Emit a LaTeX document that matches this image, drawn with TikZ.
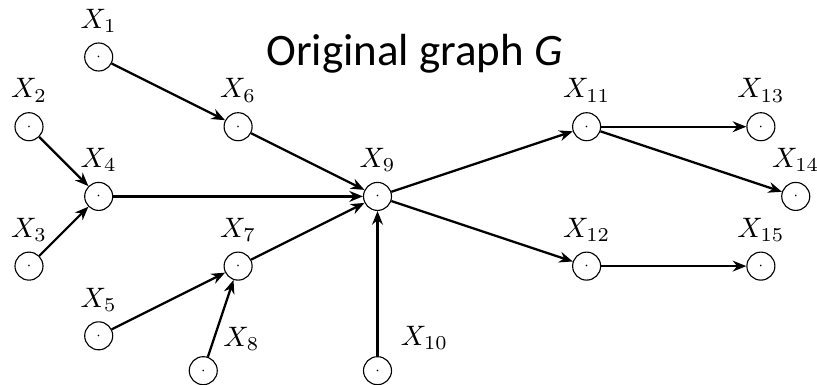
\documentclass[tikz,border=0pt]{standalone}
\usepackage{amsmath, amssymb}
\usepackage{fontspec}
\usepackage{tikz}
\usetikzlibrary{calc, arrows.meta, positioning}
\newfontfamily\titlefont{Carlito}

\begin{document}
\begin{tikzpicture}[>={Stealth[length=1.7mm, width=1.35mm]}, x=0.871cm, y=0.871cm,
    vnode/.style={circle, draw, minimum size=0.35cm, inner sep=0pt, font=\tiny},
    edge/.style={->, thick}]

    % =================================================================
    % 1. KHUNG VA TIEU DE
    % =================================================================
    \useasboundingbox (-0.416,-0.703) rectangle (11.305,4.818);
    \node[anchor=base, font=\titlefont\fontsize{16}{18}\selectfont] (title) at (5.53,3.885) {Original graph \textit{G}};

    % =================================================================
    % 2. CAC DINH CUA DO THI
    % =================================================================
    \node[vnode, label=above:{$X_{1}$}] (X1) at (1,4) {$\cdot$};
    \node[vnode, label=above:{$X_{2}$}] (X2) at (0,3) {$\cdot$};
    \node[vnode, label=above:{$X_{3}$}] (X3) at (0,1) {$\cdot$};
    \node[vnode, label=above:{$X_{4}$}] (X4) at (1,2) {$\cdot$};
    \node[vnode, label=above:{$X_{5}$}] (X5) at (1,0) {$\cdot$};
    \node[vnode, label=above:{$X_{6}$}] (X6) at (3,3) {$\cdot$};
    \node[vnode, label=above:{$X_{7}$}] (X7) at (3,1) {$\cdot$};
    \node[vnode, label={[label distance=0pt]45:{$X_{8}$}}] (X8) at (2.5,-0.5) {$\cdot$};
    \node[vnode, label=above:{$X_{9}$}] (X9) at (5,2) {$\cdot$};
    \node[vnode, label={[label distance=1pt]40:{$X_{10}$}}] (X10) at (5,-0.5) {$\cdot$};
    \node[vnode, label=above:{$X_{11}$}] (X11) at (8,3) {$\cdot$};
    \node[vnode, label=above:{$X_{12}$}] (X12) at (8,1) {$\cdot$};
    \node[vnode, label=above:{$X_{13}$}] (X13) at (10.5,3) {$\cdot$};
    \node[vnode, label=above:{$X_{14}$}] (X14) at (11,2) {$\cdot$};
    \node[vnode, label=above:{$X_{15}$}] (X15) at (10.5,1) {$\cdot$};

    % =================================================================
    % 3. CAC CUNG CO HUONG
    % =================================================================
    \draw[edge] (X1) -- (X6);
    \draw[edge] (X2) -- (X4);
    \draw[edge] (X3) -- (X4);
    \draw[edge] (X5) -- (X7);
    \draw[edge] (X8) -- (X7);

    % Cac cung di vao X9
    \draw[edge] (X4) -- (X9);
    \draw[edge] (X6) -- (X9);
    \draw[edge] (X7) -- (X9);
    \draw[edge] (X10) -- (X9);

    % Cac cung di ra tu X9
    \draw[edge] (X9) -- (X11);
    \draw[edge] (X9) -- (X12);
    \draw[edge] (X11) -- (X13);
    \draw[edge] (X11) -- (X14);
    \draw[edge] (X12) -- (X15);

\end{tikzpicture}
\end{document}
